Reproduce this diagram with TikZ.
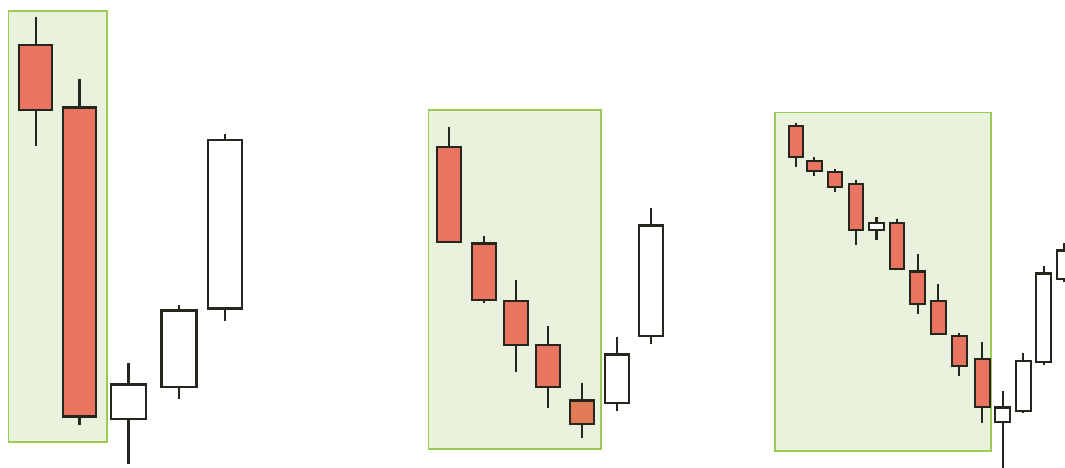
\documentclass[tikz,border=0pt]{standalone}
\definecolor{bear}{HTML}{EB7460}
\definecolor{bearlight}{HTML}{E07B55}
\definecolor{zonefill}{HTML}{E9F2DC}
\definecolor{zoneline}{HTML}{9DCA55}
\definecolor{ink}{HTML}{26261E}
\tikzset{
  zone/.style={fill=zonefill, draw=zoneline, line width=1.8pt},
  wickline/.style={draw=ink, line width=2.1pt},
  bodybox/.style={draw=ink, line width=2.1pt},
}
% \candlestick{center x}{half width}{wick top}{body top}{body bottom}{wick bottom}{fill}
\newcommand\candlestick[7]{%
  \draw[wickline] (#1,#3) -- (#1,#6);
  \filldraw[bodybox, fill=#7] (#1-#2,#4) rectangle (#1+#2,#5);
}
\begin{document}
\begin{tikzpicture}[x=1pt,y=-1pt]
\useasboundingbox (0,0) rectangle (1065,468);
\clip (0,0) rectangle (1065,468);
% zones
\draw[zone] (8.5,11) rectangle (107,442);
\draw[zone] (428.5,110) rectangle (601,449);
\draw[zone] (775,112.5) rectangle (991,451);
% panel 1
\candlestick{35.7}{16.5}{16.7}{45.3}{110}{145.7}{bear}
\candlestick{79.5}{16.3}{79.3}{107.5}{416.5}{425}{bear}
\candlestick{128.5}{17.5}{362.7}{384.5}{419.3}{464}{white}
\candlestick{179}{17.5}{305}{310.5}{387}{399.3}{white}
\candlestick{225}{17.3}{134.3}{140}{308.5}{320.7}{white}
% panel 2
\candlestick{449.2}{11.8}{127.3}{147}{241.8}{241.8}{bear}
\candlestick{483.7}{12}{235.7}{243.5}{300}{302.7}{bear}
\candlestick{515.7}{12}{280}{301.2}{345.3}{371.7}{bear}
\candlestick{547.8}{11.8}{325.7}{345.2}{386.7}{408.3}{bear}
\candlestick{582.2}{11.8}{383.3}{400.5}{423.7}{438.3}{bearlight}
\candlestick{617.2}{11.8}{337.3}{354.5}{403.3}{410.7}{white}
\candlestick{651.3}{12}{208.3}{225.5}{336.3}{344}{white}
% panel 3
\candlestick{795.8}{7.2}{123.3}{126.2}{156.7}{166.7}{bear}
\candlestick{814.3}{7.3}{157.3}{160.8}{170.7}{176}{bear}
\candlestick{834.9}{7.2}{169.3}{172.2}{186.7}{192.3}{bear}
\candlestick{855.9}{7.2}{180.3}{183.8}{230}{245}{bear}
\candlestick{876.5}{7.2}{217.3}{223.2}{230}{240}{white}
\candlestick{897.2}{7.2}{219.3}{223.2}{269.3}{269.3}{bear}
\candlestick{917.7}{7.3}{254.3}{271.5}{303.7}{314}{bear}
\candlestick{938.3}{7.3}{284.3}{301.2}{334.3}{334.3}{bear}
\candlestick{959.3}{7.3}{332.7}{336.2}{366.3}{376}{bear}
\candlestick{982.3}{7.3}{342.3}{359.2}{407.3}{422.7}{bear}
\candlestick{1002.7}{7.3}{390.7}{407.5}{421.7}{470}{white}
\candlestick{1023.3}{7.3}{353.3}{361.2}{411}{413.3}{white}
\candlestick{1043.8}{7.5}{265.7}{273.5}{361.7}{365}{white}
\candlestick{1064.5}{7.5}{243}{250.5}{279.3}{281.7}{white}
\end{tikzpicture}
\end{document}
